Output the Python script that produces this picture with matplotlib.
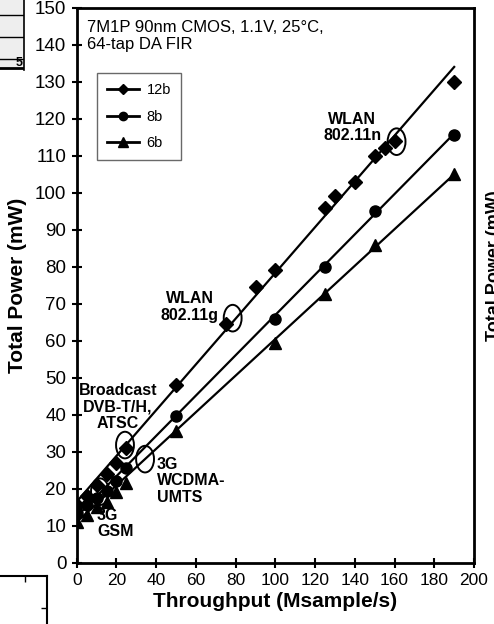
"""Total power vs throughput for the 64-tap DA FIR (12b / 8b / 6b)."""

import matplotlib

matplotlib.use("Agg")
import matplotlib.pyplot as plt
from matplotlib.lines import Line2D
from matplotlib.patches import Ellipse

plt.rcParams["font.family"] = ["Liberation Sans", "DejaVu Sans"]

# measured points (Msample/s, mW)
x_12b = [0, 5, 10, 15, 20, 25, 50, 75, 90, 100, 125, 130, 140, 150, 155, 160, 190]
y_12b = [15.5, 18, 21, 24, 27, 31, 48, 64.5, 74.5, 79, 96, 99, 103, 110, 112, 114, 130]
x_8b = [0, 5, 10, 15, 20, 25, 50, 100, 125, 150, 190]
y_8b = [13.5, 15.5, 17.5, 19.5, 22, 25.5, 39.7, 66, 80, 95, 115.6]
x_6b = [0, 5, 10, 15, 20, 25, 50, 100, 125, 150, 190]
y_6b = [11, 13, 15, 16.5, 19, 21.6, 35.7, 59.3, 72.5, 86, 105]

# trend lines, end points
trend_x = [0, 190]
trend_12b = [16.5, 134]
trend_8b = [12.5, 116]
trend_6b = [11, 105]

# application circles and labels
apps = [
    ("WLAN\n802.11n", (161, 113.8), (138.6, 117.7), "center"),
    ("WLAN\n802.11g", (78.5, 66.1), (57, 69.1), "center"),
    ("Broadcast\nDVB-T/H,\nATSC", (24.3, 31.8), (20.8, 42.1), "center"),
    ("3G\nWCDMA-\nUMTS", (34.4, 28.0), (40.4, 22.1), "left"),
    ("3G\nGSM", (11.7, 19.2), (10.2, 10.6), "left"),
]

fig = plt.figure(figsize=(4.94, 6.24), dpi=100)
ax = fig.add_axes([0.1553, 0.0982, 0.8043, 0.8894])

series = [
    ("12b", x_12b, y_12b, trend_12b, "D", 7.5),
    ("8b", x_8b, y_8b, trend_8b, "o", 8),
    ("6b", x_6b, y_6b, trend_6b, "^", 8.5),
]
handles = []
for name, xs, ys, trend, marker, ms in series:
    ax.plot(trend_x, trend, color="black", lw=1.6, zorder=3)
    ax.plot(xs, ys, linestyle="none", marker=marker, ms=ms, color="black", zorder=4)
    handles.append(Line2D([], [], color="black", lw=2, marker=marker, ms=ms - 2, label=name))

for text, circ, pos, ha in apps:
    ax.add_patch(Ellipse(circ, width=9, height=7.2, fill=False, lw=1.4, ec="black", zorder=5))
    ax.text(pos[0], pos[1], text, ha=ha, va="center", fontsize=11.5, fontweight="bold",
            multialignment=ha, linespacing=1.1)

ax.text(5.2, 142.4, "7M1P 90nm CMOS, 1.1V, 25°C,\n64-tap DA FIR", ha="left", va="center",
        fontsize=12, linespacing=1.15)

leg = ax.legend(handles=handles, loc="upper left", bbox_to_anchor=(0.051, 0.882), fontsize=10.5,
                frameon=True, fancybox=False, handlelength=2.2, labelspacing=0.85,
                borderpad=0.7, handletextpad=0.5, borderaxespad=0)
leg.get_frame().set_edgecolor("#444444")
leg.get_frame().set_linewidth(1.0)

ax.set_xlim(0, 200)
ax.set_ylim(0, 150)
ax.set_xticks(range(0, 201, 20))
ax.set_yticks(range(0, 151, 10))
ax.tick_params(direction="inout", length=7, width=1.5, pad=4)
ax.tick_params(axis="x", labelsize=12.5)
ax.tick_params(axis="y", labelsize=13.5)
for spine in ax.spines.values():
    spine.set_linewidth(2)
ax.set_xlabel("Throughput (Msample/s)", fontsize=15, fontweight="bold", labelpad=3)
ax.set_ylabel("Total Power (mW)", fontsize=15, fontweight="bold", labelpad=6)

# fragments of the neighbouring figures in the page crop
tbl = fig.add_axes([0, 1 - 70 / 624, 24 / 494, 70 / 624])
tbl.set_facecolor("#eeeeee")
tbl.set_xlim(0, 1)
tbl.set_ylim(70, 0)
for yy in (15, 37, 59):
    tbl.axhline(yy, color="black", lw=1)
tbl.axhline(68, color="black", lw=2)
tbl.text(0.8, 63.5, "5", ha="center", va="center", fontsize=9, fontweight="bold")
tbl.set_xticks([])
tbl.set_yticks([])
for side in ("top", "left", "bottom"):
    tbl.spines[side].set_visible(False)
tbl.spines["right"].set_linewidth(1.2)

corner = fig.add_axes([-50 / 494, -50 / 624, 97 / 494, 98 / 624])
corner.set_xlim(0, 1)
corner.set_ylim(0, 1)
corner.xaxis.tick_top()
corner.yaxis.tick_right()
corner.set_xticks([0.773])
corner.set_yticks([0.673])
corner.tick_params(direction="in", length=4, width=1, labeltop=False, labelright=False)
for spine in corner.spines.values():
    spine.set_linewidth(1.5)

fig.text(494 / 494, 0.575, "Total Power (mW)", rotation=90, ha="center", va="center",
         fontsize=13, fontweight="bold")

fig.savefig("out.png", dpi=100)
